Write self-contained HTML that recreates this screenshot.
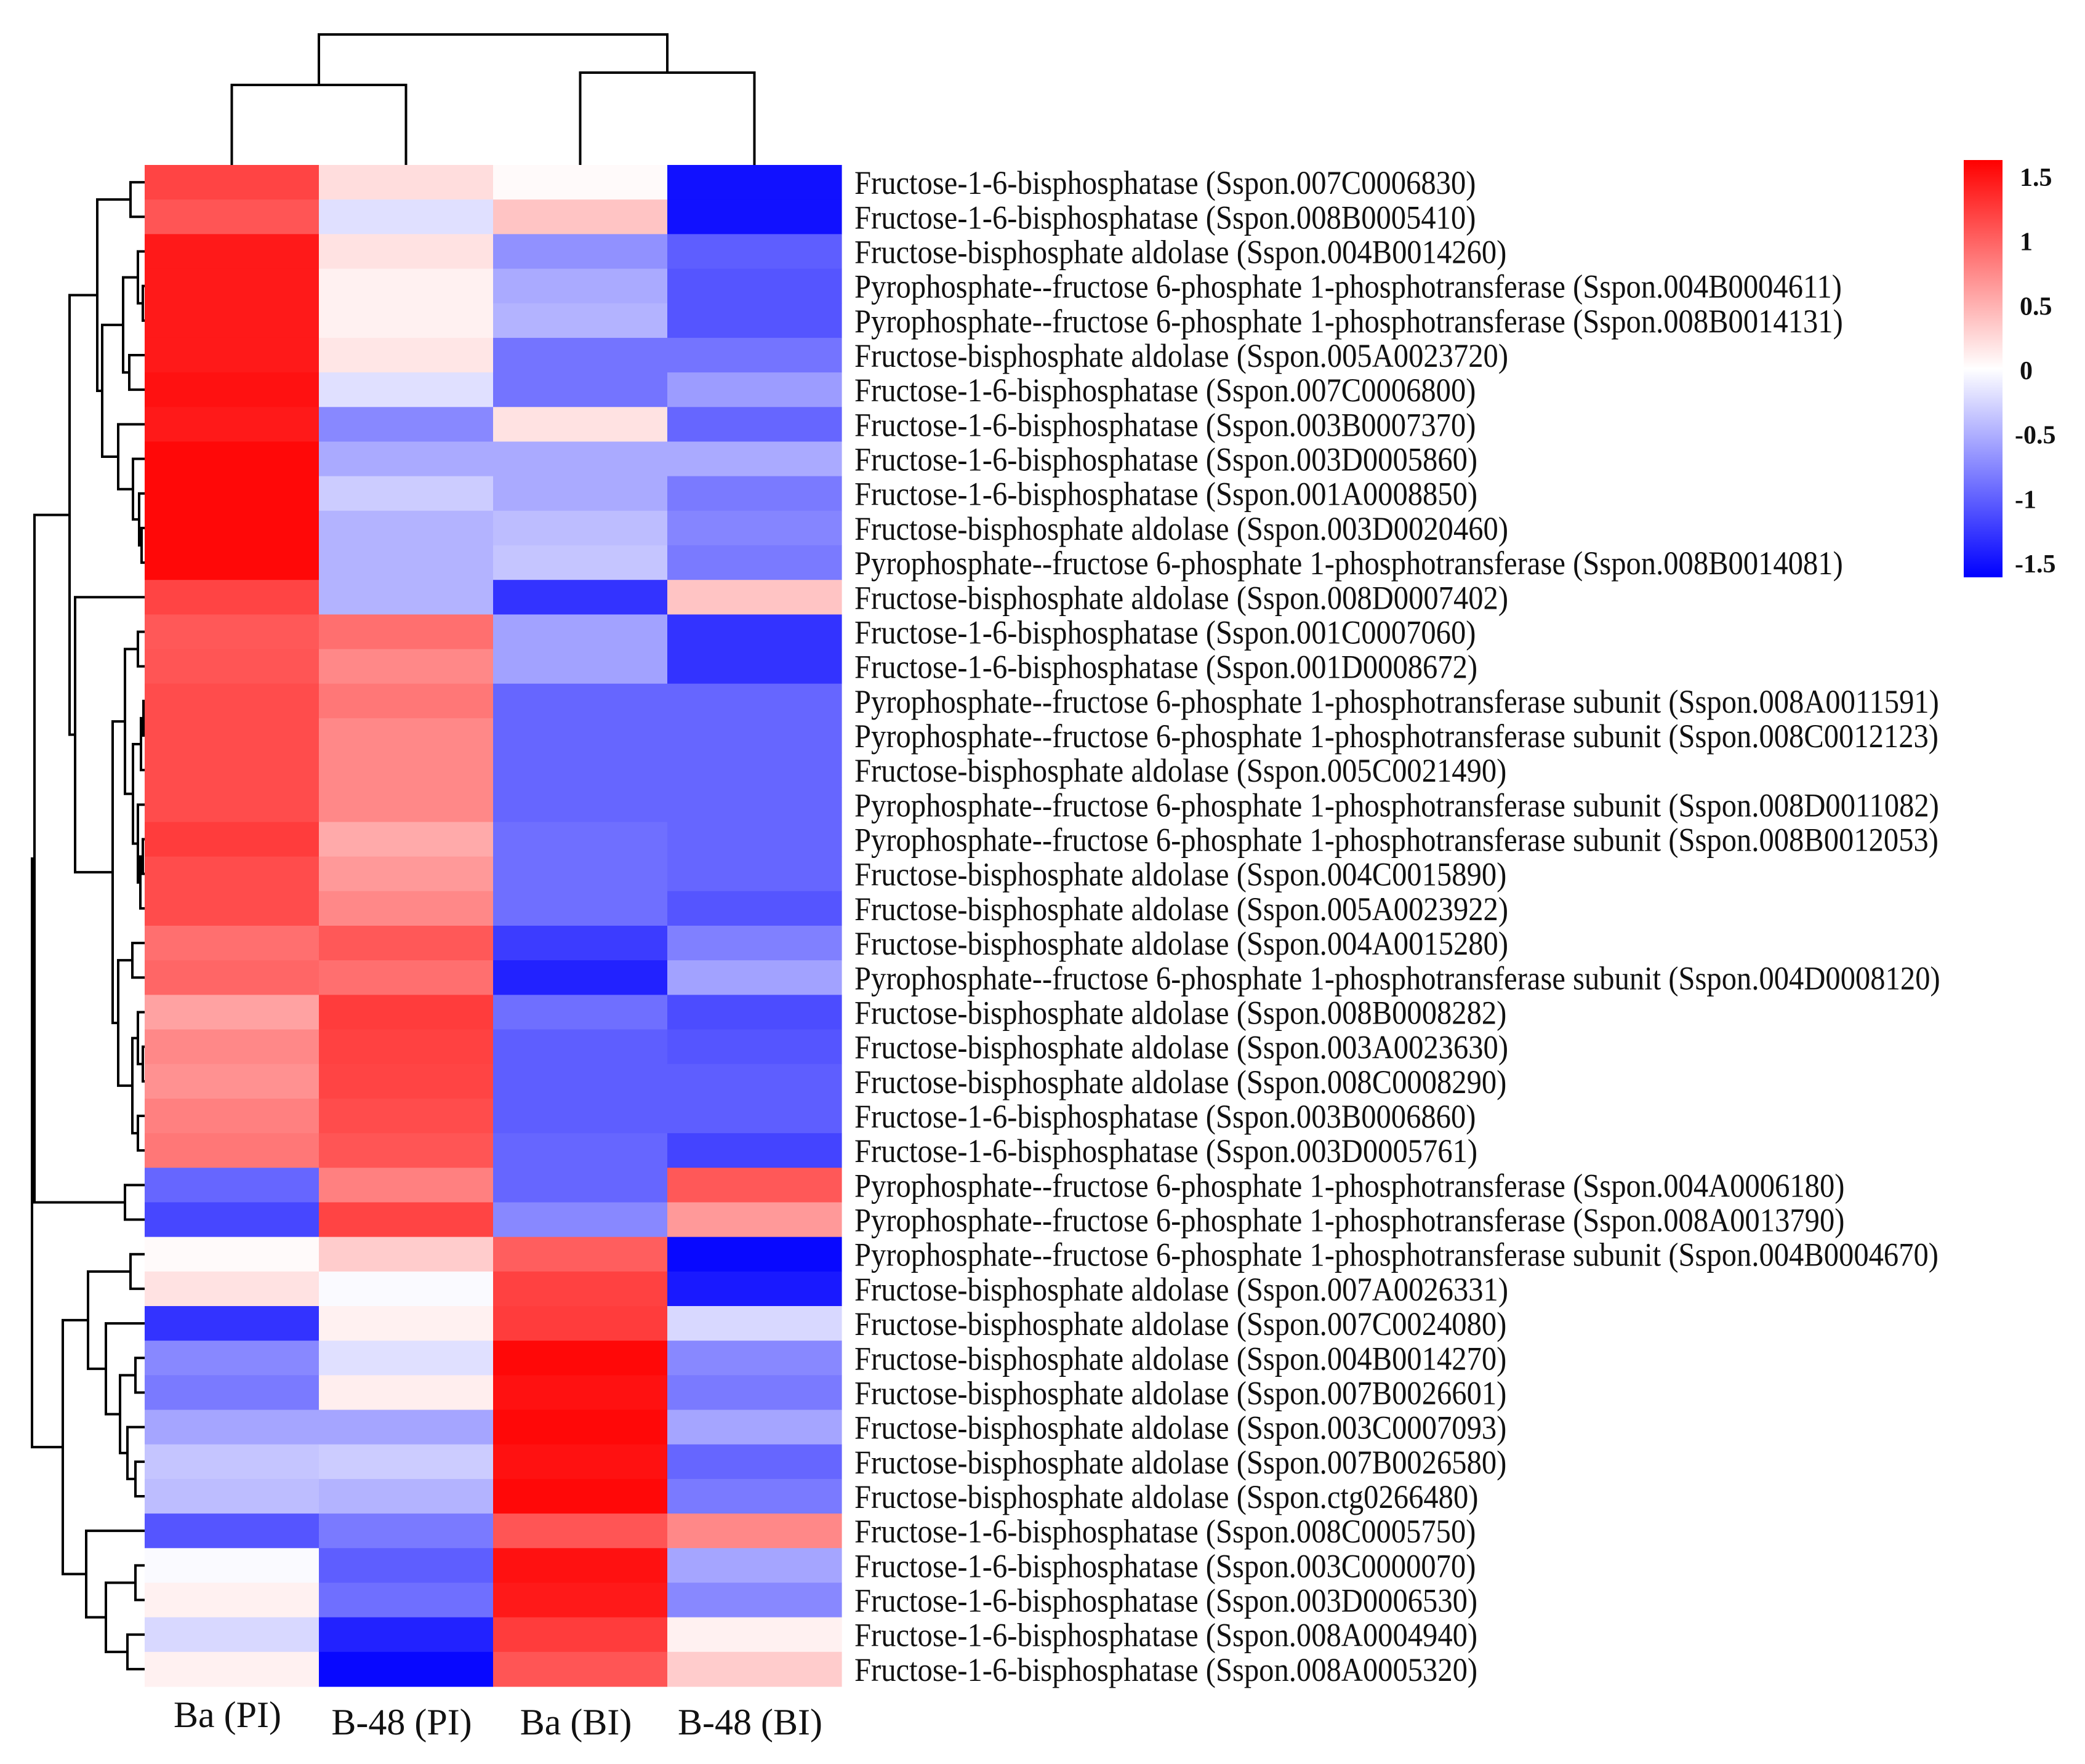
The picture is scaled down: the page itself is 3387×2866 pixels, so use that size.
<!DOCTYPE html>
<html><head><meta charset="utf-8">
<style>
html,body{margin:0;padding:0;background:#fff;}
svg{display:block;}
text{font-family:"Liberation Serif","DejaVu Serif",serif;fill:#111;}
</style></head>
<body>
<svg id="chart" xmlns="http://www.w3.org/2000/svg" width="3387" height="2866" viewBox="0 0 3387 2866">
<rect width="3387" height="2866" fill="#fff"/>
<defs>
<linearGradient id="cbGrad" x1="0" y1="0" x2="0" y2="1">
<stop offset="0" stop-color="#ff0000"/><stop offset="0.5" stop-color="#ffffff"/><stop offset="1" stop-color="#0000ff"/>
</linearGradient>
</defs>
<g id="cells"></g>
<g id="rowDendro"></g>
<g id="colDendro"></g>
<g id="rowLabels"></g>
<g id="colLabels"></g>
<g id="legend">
<rect x="3190" y="260" width="63" height="678" fill="url(#cbGrad)"/>
</g>
</svg>
<script>
const columns = ["Ba (PI)", "B-48 (PI)", "Ba (BI)", "B-48 (BI)"];
const rowNames = [
"Fructose-1-6-bisphosphatase (Sspon.007C0006830)",
"Fructose-1-6-bisphosphatase (Sspon.008B0005410)",
"Fructose-bisphosphate aldolase (Sspon.004B0014260)",
"Pyrophosphate--fructose 6-phosphate 1-phosphotransferase (Sspon.004B0004611)",
"Pyrophosphate--fructose 6-phosphate 1-phosphotransferase (Sspon.008B0014131)",
"Fructose-bisphosphate aldolase (Sspon.005A0023720)",
"Fructose-1-6-bisphosphatase (Sspon.007C0006800)",
"Fructose-1-6-bisphosphatase (Sspon.003B0007370)",
"Fructose-1-6-bisphosphatase (Sspon.003D0005860)",
"Fructose-1-6-bisphosphatase (Sspon.001A0008850)",
"Fructose-bisphosphate aldolase (Sspon.003D0020460)",
"Pyrophosphate--fructose 6-phosphate 1-phosphotransferase (Sspon.008B0014081)",
"Fructose-bisphosphate aldolase (Sspon.008D0007402)",
"Fructose-1-6-bisphosphatase (Sspon.001C0007060)",
"Fructose-1-6-bisphosphatase (Sspon.001D0008672)",
"Pyrophosphate--fructose 6-phosphate 1-phosphotransferase subunit (Sspon.008A0011591)",
"Pyrophosphate--fructose 6-phosphate 1-phosphotransferase subunit (Sspon.008C0012123)",
"Fructose-bisphosphate aldolase (Sspon.005C0021490)",
"Pyrophosphate--fructose 6-phosphate 1-phosphotransferase subunit (Sspon.008D0011082)",
"Pyrophosphate--fructose 6-phosphate 1-phosphotransferase subunit (Sspon.008B0012053)",
"Fructose-bisphosphate aldolase (Sspon.004C0015890)",
"Fructose-bisphosphate aldolase (Sspon.005A0023922)",
"Fructose-bisphosphate aldolase (Sspon.004A0015280)",
"Pyrophosphate--fructose 6-phosphate 1-phosphotransferase subunit (Sspon.004D0008120)",
"Fructose-bisphosphate aldolase (Sspon.008B0008282)",
"Fructose-bisphosphate aldolase (Sspon.003A0023630)",
"Fructose-bisphosphate aldolase (Sspon.008C0008290)",
"Fructose-1-6-bisphosphatase (Sspon.003B0006860)",
"Fructose-1-6-bisphosphatase (Sspon.003D0005761)",
"Pyrophosphate--fructose 6-phosphate 1-phosphotransferase (Sspon.004A0006180)",
"Pyrophosphate--fructose 6-phosphate 1-phosphotransferase (Sspon.008A0013790)",
"Pyrophosphate--fructose 6-phosphate 1-phosphotransferase subunit (Sspon.004B0004670)",
"Fructose-bisphosphate aldolase (Sspon.007A0026331)",
"Fructose-bisphosphate aldolase (Sspon.007C0024080)",
"Fructose-bisphosphate aldolase (Sspon.004B0014270)",
"Fructose-bisphosphate aldolase (Sspon.007B0026601)",
"Fructose-bisphosphate aldolase (Sspon.003C0007093)",
"Fructose-bisphosphate aldolase (Sspon.007B0026580)",
"Fructose-bisphosphate aldolase (Sspon.ctg0266480)",
"Fructose-1-6-bisphosphatase (Sspon.008C0005750)",
"Fructose-1-6-bisphosphatase (Sspon.003C0000070)",
"Fructose-1-6-bisphosphatase (Sspon.003D0006530)",
"Fructose-1-6-bisphosphatase (Sspon.008A0004940)",
"Fructose-1-6-bisphosphatase (Sspon.008A0005320)"
];
const valsBaPI   = [1.1,1.0,1.35,1.35,1.35,1.35,1.4,1.35,1.45,1.45,1.45,1.45,1.1,0.98,1.0,1.05,1.05,1.05,1.05,1.15,1.05,1.05,0.85,0.9,0.55,0.7,0.65,0.75,0.8,-0.9,-1.08,0.03,0.17,-1.2,-0.7,-0.78,-0.53,-0.34,-0.39,-1.0,-0.03,0.08,-0.23,0.08];
const valsB48PI  = [0.2,-0.18,0.17,0.08,0.08,0.15,-0.18,-0.7,-0.5,-0.3,-0.45,-0.45,-0.45,0.85,0.7,0.8,0.7,0.7,0.7,0.5,0.6,0.7,0.98,0.85,1.15,1.12,1.1,1.05,1.0,0.75,1.1,0.3,-0.03,0.08,-0.18,0.1,-0.53,-0.3,-0.45,-0.78,-0.95,-0.85,-1.3,-1.45];
const valsBaBI   = [0.03,0.35,-0.65,-0.5,-0.45,-0.82,-0.82,0.17,-0.5,-0.5,-0.39,-0.34,-1.2,-0.55,-0.55,-0.9,-0.9,-0.9,-0.9,-0.85,-0.85,-0.85,-1.15,-1.3,-0.85,-0.95,-0.95,-0.95,-0.9,-0.9,-0.7,0.95,1.12,1.15,1.45,1.4,1.45,1.4,1.45,1.0,1.4,1.35,1.15,1.0];
const valsB48BI  = [-1.4,-1.4,-0.95,-1.0,-1.0,-0.82,-0.58,-0.9,-0.5,-0.78,-0.72,-0.78,0.35,-1.2,-1.2,-0.9,-0.9,-0.9,-0.9,-0.9,-0.9,-1.0,-0.75,-0.55,-1.05,-1.0,-0.95,-0.95,-1.1,0.98,0.6,-1.45,-1.35,-0.23,-0.7,-0.78,-0.53,-0.9,-0.78,0.7,-0.53,-0.7,0.08,0.3];
const legendTicks = [1.5,1,0.5,0,-0.5,-1,-1.5];
// row dendrogram merges: [left child, right child, x-position of merge]; leaves are numbers, nodes "n<index>"
const rowMerges = [
[0,1,212],[3,4,232],[2,"n1",224],[5,6,210],["n2","n3",200],[10,11,230],[9,"n5",226],[8,"n6",216],[7,"n7",192],["n4","n8",166],["n0","n9",158],
[13,14,224],[15,16,233],["n12",17,229],[19,20,232],["n14",21,228],[18,"n15",224],["n13","n16",216],["n11","n17",203],
[22,23,215],[25,26,232],[24,"n20",224],[27,28,224],["n21","n22",215],["n19","n23",192],["n18","n24",183],[12,"n25",122],
["n10","n26",113],[29,30,203],["n27","n28",56],
[31,32,212],[34,35,220],[37,38,220],[36,"n32",207],["n31","n33",195],[33,"n34",172],["n30","n35",143],
[40,41,220],[42,43,207],["n37","n38",172],[39,"n39",140],["n36","n40",102],["n29","n41",52]
];
const colMerges = [[0,1,138],[2,3,118],["n0","n1",56]];

const NS="http://www.w3.org/2000/svg";
const X0=235, X1=1367, Y0=268, Y1=2740;
const nRows=rowNames.length, nCols=columns.length;
const cw=(X1-X0)/nCols, rh=(Y1-Y0)/nRows;
const xCol=i=>X0+i*cw, yRow=i=>Y0+i*rh;
function color(v){
  const t=Math.max(-1,Math.min(1,v/1.5));
  const c=Math.round(255*(1-Math.abs(t)));
  return t>=0?`rgb(255,${c},${c})`:`rgb(${c},${c},255)`;
}
function mk(tag,attrs,parent){const e=document.createElementNS(NS,tag);for(const k in attrs)e.setAttribute(k,attrs[k]);parent.appendChild(e);return e;}
const series=[valsBaPI,valsB48PI,valsBaBI,valsB48BI];
const gc=document.getElementById('cells');
for(let j=0;j<nCols;j++)for(let i=0;i<nRows;i++){
  const r=mk('rect',{x:xCol(j),y:yRow(i),width:cw+0.6,height:rh+0.6,fill:color(series[j][i])},gc);
  
  
}
// row labels
const gl=document.getElementById('rowLabels');
const labelEls=[];
rowNames.forEach((n,i)=>{
  const t=mk('text',{x:0,y:0,'font-size':54},gl);
  t.textContent=n;
  
  
  labelEls.push([t,i]);
});
let maxW=0;labelEls.forEach(([t])=>{maxW=Math.max(maxW,t.getComputedTextLength());});
const sx=maxW>0?1764/maxW:0.85;
labelEls.forEach(([t,i])=>{t.setAttribute('transform',`translate(1388,${yRow(i)+rh/2+19}) scale(${sx},1)`);});
// column labels
const gcl=document.getElementById('colLabels');
const colY=[2806,2818,2818,2818];
columns.forEach((c,j)=>{
  const t=mk('text',{x:xCol(j)+cw/2-7,y:colY[j],'font-size':60,'text-anchor':'middle'},gcl);
  t.textContent=c;
  
  
});
// legend ticks
const gleg=document.getElementById('legend');
legendTicks.forEach(v=>{
  const y=288+(1.5-v)/3*628+14;
  const t=mk('text',{x:v<0?3273:3281,y:y,'font-size':42,'font-weight':'bold'},gleg);
  t.textContent=String(v);
  
  
});
// row dendrogram
const gd=document.getElementById('rowDendro');
const rowNodeY=[];
function ry(c){return typeof c==='number'?yRow(c)+rh/2:rowNodeY[+c.slice(1)].y;}
function rx(c){return typeof c==='number'?X0:rowNodeY[+c.slice(1)].x;}
rowMerges.forEach((m,k)=>{
  const ya=ry(m[0]),yb=ry(m[1]),xa=rx(m[0]),xb=rx(m[1]),x=m[2];
  const p=mk('path',{d:`M${xa},${ya}H${x}V${yb}H${xb}`,fill:'none',stroke:'#000','stroke-width':4},gd);
  
  
  rowNodeY[k]={y:(ya+yb)/2,x:x};
});
// column dendrogram
const gcd=document.getElementById('colDendro');
const colNode=[];
function cxp(c){return typeof c==='number'?xCol(c)+cw/2:colNode[+c.slice(1)].x;}
function cyp(c){return typeof c==='number'?Y0:colNode[+c.slice(1)].y;}
colMerges.forEach((m,k)=>{
  const xa=cxp(m[0]),xb=cxp(m[1]),ya=cyp(m[0]),yb=cyp(m[1]),y=m[2];
  const p=mk('path',{d:`M${xa},${ya}V${y}H${xb}V${yb}`,fill:'none',stroke:'#000','stroke-width':4},gcd);
  
  
  colNode[k]={x:(xa+xb)/2,y:y};
});
</script>
</body></html>
